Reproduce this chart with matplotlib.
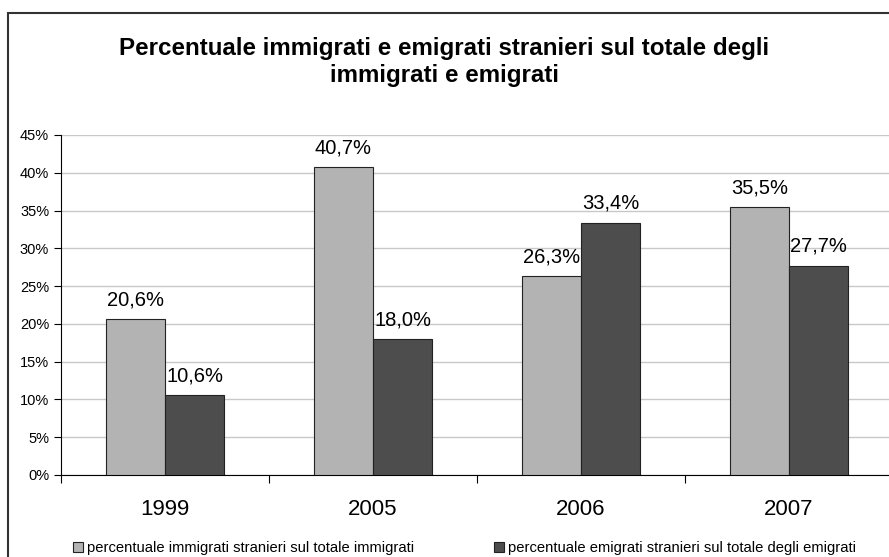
import numpy as np
import matplotlib.pyplot as plt
from matplotlib.patches import Rectangle

plt.rcParams['font.family'] = ['Liberation Sans', 'DejaVu Sans']

# dati
anni = ['1999', '2005', '2006', '2007']
immigrati = [20.6, 40.7, 26.3, 35.5]
emigrati = [10.6, 18.0, 33.4, 27.7]
nomi = ['percentuale immigrati stranieri sul totale immigrati',
        'percentuale emigrati stranieri sul totale degli emigrati']
titolo = 'Percentuale immigrati e emigrati stranieri sul totale degli\nimmigrati e emigrati'

W, H = 889, 557
fig = plt.figure(figsize=(W/100, H/100), dpi=100)
# l'area del grafico esce un po' a destra, come nell'originale
ax = fig.add_axes([61/W, (H-475)/H, (893-61)/W, (475-135)/H])

# bordo del grafico (esce a destra e in basso)
fig.patches.append(Rectangle((8/W, -0.05), 1.0, (H-13)/H + 0.05,
                             transform=fig.transFigure, fill=False,
                             edgecolor='#333333', linewidth=1.5))

x = np.arange(len(anni))
w = 0.286
b1 = ax.bar(x - w/2, immigrati, w, color='#b3b3b3', edgecolor='#222222', linewidth=0.8,
            label=nomi[0], zorder=3)
b2 = ax.bar(x + w/2, emigrati, w, color='#4d4d4d', edgecolor='#222222', linewidth=0.8,
            label=nomi[1], zorder=3)

for bars in (b1, b2):
    for r in bars:
        v = r.get_height()
        ax.annotate(f'{v:.1f}%'.replace('.', ','), (r.get_x() + r.get_width()/2, v),
                    xytext=(0, 7), textcoords='offset points',
                    ha='center', va='bottom', fontsize=14.5)

ax.set_xlim(-0.5, len(anni) - 0.5)
ax.set_ylim(0, 45)
ax.set_yticks(np.arange(0, 46, 5))
ax.set_yticklabels([f'{v}%' for v in range(0, 46, 5)], fontsize=10.5)
ax.yaxis.grid(True, color='#c8c8c8', linewidth=1, zorder=0)
ax.set_axisbelow(True)

ax.set_xticks(np.arange(-0.5, len(anni), 1))
ax.set_xticklabels([])
ax.set_xticks(x, minor=True)
ax.set_xticklabels(anni, minor=True, fontsize=16)
ax.tick_params(axis='x', which='minor', length=0, pad=17)
ax.tick_params(axis='x', which='major', length=6, direction='out', color='black')
ax.tick_params(axis='y', length=5, direction='out', color='black')

for s in ['top', 'right']:
    ax.spines[s].set_visible(False)
ax.spines['left'].set_color('black')
ax.spines['bottom'].set_color('black')

fig.text(0.5, 1 - 62/H, titolo, ha='center', va='center', fontsize=17.4,
         fontweight='bold', linespacing=1.2)

for h, x0 in zip((b1, b2), (73, 494)):
    fig.legend(handles=[h], loc='center left', bbox_to_anchor=(x0/W, 1 - 548/H),
               frameon=False, fontsize=10.6, handlelength=0.7, handleheight=0.7,
               handletextpad=0.25, borderpad=0, borderaxespad=0)

fig.savefig('out.png', dpi=100)
